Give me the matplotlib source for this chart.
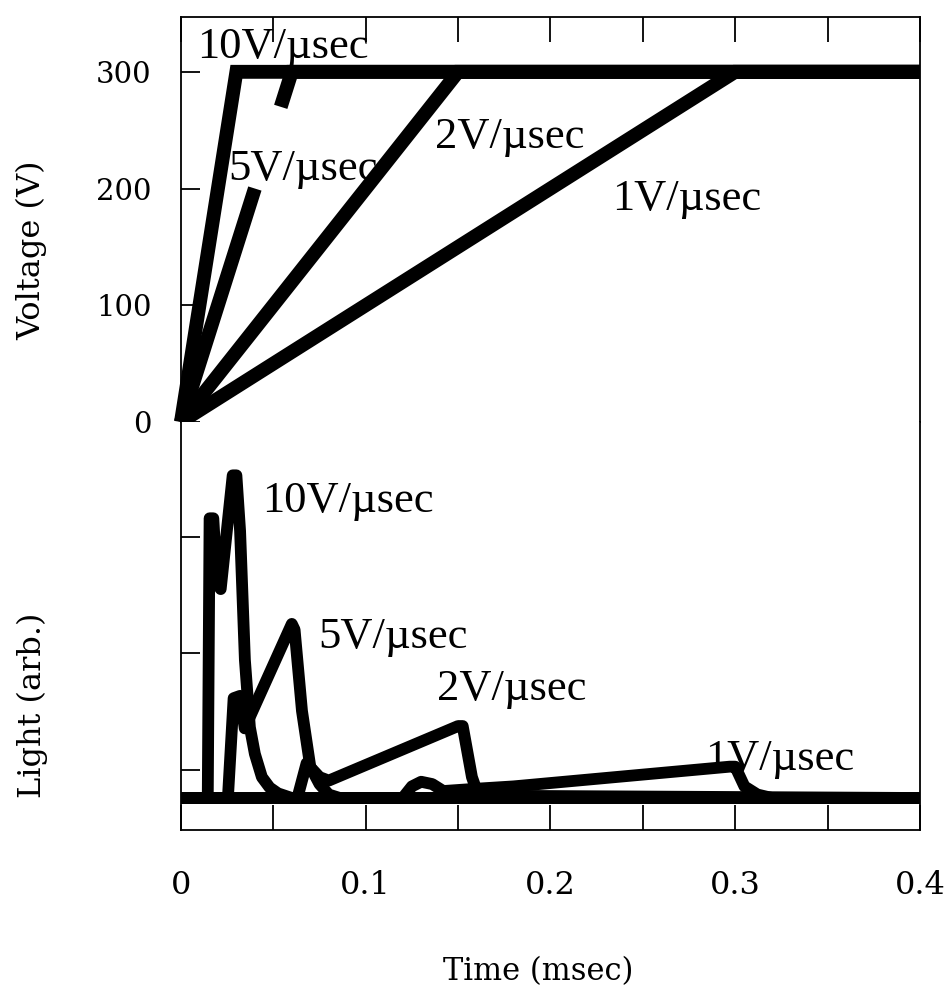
import numpy as np
import matplotlib.pyplot as plt
from matplotlib.ticker import MultipleLocator, FixedLocator

# voltage ramps (time in msec, volts)
t_10v = [0, 0.03, 0.4]
v_10v = [0, 300, 300]
t_5v = [0, 0.04, np.nan, 0.054, 0.06, 0.4]
v_5v = [0, 200, np.nan, 270, 300, 300]
t_2v = [0, 0.15, 0.4]
v_2v = [0, 300, 300]
t_1v = [0, 0.3, 0.4]
v_1v = [0, 300, 300]

# light output (arb. units)
lt_10v = [0, 0.0145, 0.0155, 0.0175, 0.0195, 0.0215, 0.028, 0.030, 0.032,
          0.0346, 0.0373, 0.040, 0.0438, 0.048, 0.0525, 0.060, 0.4]
l_10v = [0, 0, 2.41, 2.41, 1.85, 1.80, 2.78, 2.78, 2.30,
         1.19, 0.61, 0.38, 0.18, 0.09, 0.04, 0, 0]
lt_5v = [0, 0.0254, 0.0285, 0.032, 0.0345, 0.060, 0.0615, 0.0655, 0.070,
         0.075, 0.080, 0.086, 0.4]
l_5v = [0, 0, 0.86, 0.88, 0.60, 1.50, 1.45, 0.75, 0.27,
        0.12, 0.03, 0, 0]
lt_2v = [0, 0.063, 0.068, 0.075, 0.080, 0.150, 0.1525, 0.1575, 0.161, 0.4]
l_2v = [0, 0, 0.30, 0.18, 0.15, 0.62, 0.62, 0.18, 0.02, 0]
lt_1v = [0, 0.120, 0.125, 0.130, 0.136, 0.142, 0.160, 0.180, 0.297, 0.300,
         0.305, 0.312, 0.320, 0.4]
l_1v = [0, 0, 0.10, 0.14, 0.12, 0.06, 0.08, 0.10, 0.27, 0.27,
        0.10, 0.03, 0, 0]

labels = ['10V/\u00b5sec', '5V/\u00b5sec', '2V/\u00b5sec', '1V/\u00b5sec']

fig = plt.figure(figsize=(9.45, 9.98), dpi=100)
ax1 = fig.add_axes([0.1915, 0.5772, 0.782, 0.4058])
ax2 = fig.add_axes([0.1915, 0.1683, 0.782, 0.4089], sharex=ax1)

for t, v in [(t_10v, v_10v), (t_5v, v_5v), (t_2v, v_2v), (t_1v, v_1v)]:
    ax1.plot(t, v, color='black', lw=10, clip_on=False,
             solid_joinstyle='miter', solid_capstyle='butt')

for t, l in [(lt_10v, l_10v), (lt_5v, l_5v), (lt_2v, l_2v), (lt_1v, l_1v)]:
    ax2.plot(t, l, color='black', lw=8.5, solid_joinstyle='round',
             solid_capstyle='butt')

ax1.set_xlim(0, 0.4)
ax1.set_ylim(0, 347)
ax2.set_ylim(-0.276, 3.24)

for ax in (ax1, ax2):
    for s in ax.spines.values():
        s.set_linewidth(1.3)
ax1.spines['bottom'].set_visible(False)
ax2.spines['top'].set_visible(False)

ax1.xaxis.set_major_locator(MultipleLocator(0.05))
ax1.tick_params(axis='x', which='both', top=True, bottom=False,
                labeltop=False, labelbottom=False, direction='in',
                length=18, width=1.3)
ax1.set_yticks([0, 100, 200, 300])
ax1.tick_params(axis='y', direction='in', length=14, width=1.3,
                labelsize=21, pad=21)

ax2.xaxis.set_minor_locator(MultipleLocator(0.05))
ax2.xaxis.set_major_locator(FixedLocator([0, 0.1, 0.2, 0.3, 0.4]))
ax2.set_xticklabels(['0', '0.1', '0.2', '0.3', '0.4'])
ax2.tick_params(axis='x', which='both', direction='in', length=18,
                width=1.3, labelsize=23, pad=29, top=False)
ax2.set_yticks([0.24, 1.25, 2.25])
ax2.set_yticklabels([])
ax2.tick_params(axis='y', direction='in', length=14, width=1.3)

for lab in ax1.get_yticklabels() + ax2.get_xticklabels():
    lab.set_family('DejaVu Serif')

tfont = dict(family='Liberation Serif', fontsize=32, va='baseline')
ax1.text(0.0087, 312, labels[0], **tfont)
ax1.text(0.0254, 207, labels[1], **tfont)
ax1.text(0.1375, 235, labels[2], **tfont)
ax1.text(0.2333, 182, labels[3], **tfont)
ax2.text(0.0438, 2.466, labels[0], **tfont)
ax2.text(0.0742, 1.293, labels[1], **tfont)
ax2.text(0.1386, 0.845, labels[2], **tfont)
ax2.text(0.2836, 0.241, labels[3], **tfont)

fig.text(32 / 945, 1 - 250 / 998, 'Voltage (V)', rotation=90, ha='center',
         va='center', fontsize=23, family='DejaVu Serif')
fig.text(32 / 945, 1 - 705 / 998, 'Light (arb.)', rotation=90, ha='center',
         va='center', fontsize=23, family='DejaVu Serif')
fig.text(538 / 945, 1 - 972 / 998, 'Time (msec)', ha='center',
         va='center', fontsize=22, family='DejaVu Serif')

fig.savefig('out.png', dpi=100, facecolor='white')
